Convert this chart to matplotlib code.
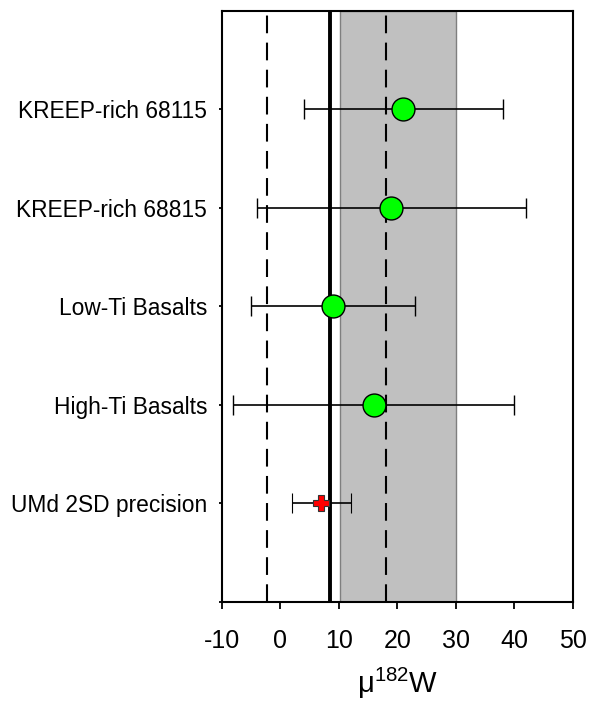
import matplotlib
matplotlib.use("Agg")
import matplotlib.pyplot as plt

plt.rcParams['font.family'] = ['Liberation Sans', 'DejaVu Sans']
plt.rcParams['mathtext.fontset'] = 'custom'
plt.rcParams['mathtext.rm'] = 'Liberation Sans'
plt.rcParams['mathtext.it'] = 'Liberation Sans:italic'

# Data
categories = ["UMd 2SD precision", "High-Ti Basalts", "Low-Ti Basalts",
              "KREEP-rich 68815", "KREEP-rich 68115"]
sample_names = ["High-Ti Basalts", "Low-Ti Basalts", "KREEP-rich 68815", "KREEP-rich 68115"]
sample_mu = [16, 9, 19, 21]
sample_err = [24, 14, 23, 17]
umd_mu = 7
umd_err = 5
ref_mean = 8.5
ref_low = -2.2
ref_high = 18.1
band_low = 10.2
band_high = 30
xticks = [-10, 0, 10, 20, 30, 40, 50]

fig = plt.figure(figsize=(5.96, 7.02), dpi=100)
ax = fig.add_axes([0.372, 0.1429, 0.5894, 0.8419])

ypos = {c: i + 1 for i, c in enumerate(categories)}

ax.axvspan(band_low, band_high, facecolor='#C0C0C0', edgecolor='#7f7f7f', lw=1.0, zorder=1)
ax.axvline(ref_mean, color='black', lw=2.8, zorder=2)
for v in (ref_low, ref_high):
    ax.axvline(v, color='black', lw=1.5, linestyle=(0, (8.5, 4.5)), zorder=2)

ys = [ypos[n] for n in sample_names]
ax.errorbar(sample_mu, ys, xerr=sample_err, fmt='o', color='black', ecolor='black',
            elinewidth=1.2, capsize=7, capthick=1.2, markersize=16.5,
            markerfacecolor='#00FF00', markeredgecolor='black', markeredgewidth=1.0, zorder=4)
ax.errorbar([umd_mu], [ypos["UMd 2SD precision"]], xerr=[umd_err], fmt='P', color='black',
            ecolor='black', elinewidth=1.2, capsize=7, capthick=1.2, markersize=11,
            markerfacecolor='#FF0000', markeredgecolor='#333333', markeredgewidth=0.8, zorder=4)

ax.set_xlim(-10, 50)
ax.set_ylim(0, 6)
ax.set_xticks(xticks)
ax.set_xticklabels([str(t) for t in xticks], fontsize=18)
ax.set_yticks([0] + [ypos[c] for c in categories])
ax.set_yticklabels([''] + categories, fontsize=16.4)
ax.tick_params(axis='x', direction='out', length=5, width=1.3, pad=15)
ax.tick_params(axis='y', direction='out', length=2.5, width=1.3, pad=8)
for s in ax.spines.values():
    s.set_linewidth(1.5)
    s.set_zorder(5)

ax.set_xlabel(r"μ$^{\mathregular{182}}$W", fontsize=21, labelpad=9)

fig.savefig("out.png", dpi=100)
